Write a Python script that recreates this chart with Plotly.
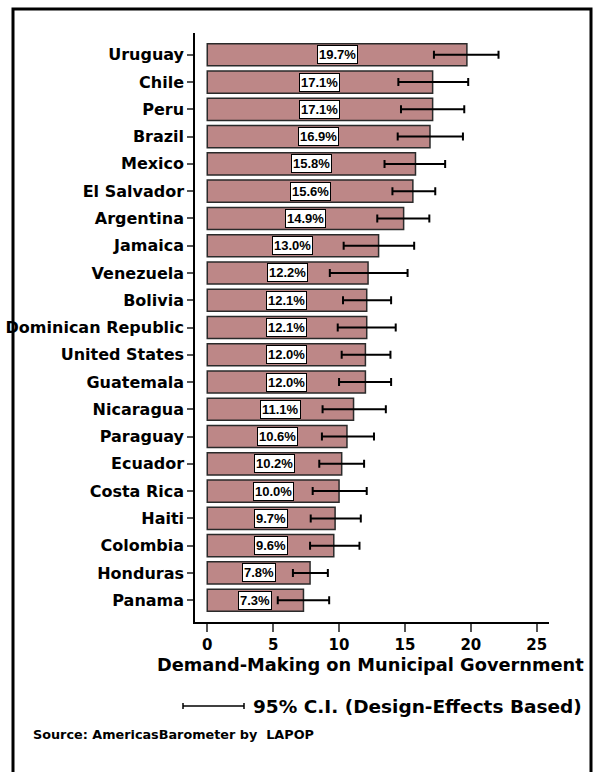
import plotly.graph_objects as go

countries = ["Uruguay", "Chile", "Peru", "Brazil", "Mexico", "El Salvador", "Argentina",
             "Jamaica", "Venezuela", "Bolivia", "Dominican Republic", "United States",
             "Guatemala", "Nicaragua", "Paraguay", "Ecuador", "Costa Rica", "Haiti",
             "Colombia", "Honduras", "Panama"]
values = [19.7, 17.1, 17.1, 16.9, 15.8, 15.6, 14.9, 13.0, 12.2, 12.1, 12.1, 12.0,
          12.0, 11.1, 10.6, 10.2, 10.0, 9.7, 9.6, 7.8, 7.3]
ci_low = [17.2, 14.5, 14.7, 14.45, 13.45, 14.05, 12.9, 10.35, 9.3, 10.3, 9.9, 10.2,
          10.0, 8.75, 8.7, 8.5, 8.0, 7.85, 7.8, 6.5, 5.35]
ci_high = [22.1, 19.8, 19.5, 19.4, 18.05, 17.3, 16.85, 15.7, 15.2, 13.95, 14.3, 13.9,
           13.95, 13.55, 12.65, 11.9, 12.1, 11.65, 11.55, 9.15, 9.25]
x_ticks = [0, 5, 10, 15, 20, 25]
x_title = "Demand-Making on Municipal Government"
legend_text = "95% C.I. (Design-Effects Based)"
source_text = "Source: AmericasBarometer by  LAPOP"

FONT = "DejaVu Sans, Liberation Sans, sans-serif"
LFONT = "Liberation Sans, Arial, sans-serif"

plus = [h - v for h, v in zip(ci_high, values)]
minus = [v - l for l, v in zip(ci_low, values)]

fig = go.Figure()
fig.add_trace(go.Bar(
    x=values, y=countries, orientation="h",
    marker=dict(color="#BD8787", line=dict(color="#2a2a2a", width=1.5)),
    error_x=dict(type="data", array=plus, arrayminus=minus, symmetric=False,
                 color="black", thickness=2, width=4),
    width=0.81, showlegend=False, hoverinfo="skip",
))

annotations = []
for c, v in zip(countries, values):
    annotations.append(dict(
        x=v / 2, y=c, xref="x", yref="y", text="<b>%.1f%%</b>" % v,
        showarrow=False, bgcolor="white", bordercolor="black", borderwidth=1,
        borderpad=1, font=dict(family=LFONT, size=13, color="black"),
    ))

L, R, T, B = 195, 51, 33, 150
W, H = 600, 772
pw, ph = W - L - R, H - T - B


def px(xp):
    return (xp - L) / pw


def py(yp):
    return (H - B - yp) / ph


annotations.append(dict(
    x=px(370), y=py(664), xref="paper", yref="paper", text="<b>%s</b>" % x_title,
    showarrow=False, font=dict(family=FONT, size=17.8, color="black"),
    xanchor="center", yanchor="middle"))
annotations.append(dict(
    x=px(251), y=py(706), xref="paper", yref="paper", text="<b>%s</b>" % legend_text,
    showarrow=False, font=dict(family=FONT, size=18.5, color="black"),
    xanchor="left", yanchor="middle"))
annotations.append(dict(
    x=px(31), y=py(734), xref="paper", yref="paper", text="<b>%s</b>" % source_text,
    showarrow=False, font=dict(family=FONT, size=12.8, color="black"),
    xanchor="left", yanchor="middle"))

shapes = [
    # outer frame
    dict(type="rect", xref="paper", yref="paper", x0=px(13), x1=px(591),
         y0=py(800), y1=py(9), line=dict(color="black", width=3)),
    # legend CI symbol
    dict(type="line", xref="paper", yref="paper", x0=px(183), x1=px(244),
         y0=py(706), y1=py(706), line=dict(color="black", width=1.5)),
    dict(type="line", xref="paper", yref="paper", x0=px(183), x1=px(183),
         y0=py(703), y1=py(709), line=dict(color="black", width=1.5)),
    dict(type="line", xref="paper", yref="paper", x0=px(244), x1=px(244),
         y0=py(703), y1=py(709), line=dict(color="black", width=1.5)),
]

fig.update_layout(
    width=W, height=H,
    margin=dict(l=L, r=R, t=T, b=B, pad=0, autoexpand=False),
    paper_bgcolor="white", plot_bgcolor="white",
    font=dict(family=FONT, color="black"),
    bargap=0.19,
    xaxis=dict(range=[-0.93, 25.93], tickvals=x_ticks,
               ticktext=["<b>%d</b>" % t for t in x_ticks],
               tickfont=dict(family=FONT, size=15, color="black"),
               showgrid=False, zeroline=False, showline=True, linecolor="black",
               linewidth=1.5, ticks="outside", ticklen=8, tickcolor="#555",
               tickwidth=1.5, fixedrange=True, automargin=False),
    yaxis=dict(range=[20.8, -0.8], tickvals=countries,
               ticktext=["<b>%s</b>" % c for c in countries],
               tickfont=dict(family=FONT, size=16, color="black"),
               showgrid=False, zeroline=False, showline=True, linecolor="black",
               linewidth=1.5, ticks="outside", ticklen=6, tickcolor="#555",
               tickwidth=1.5, fixedrange=True, automargin=False),
    annotations=annotations, shapes=shapes,
)

fig.write_html("out.html")
